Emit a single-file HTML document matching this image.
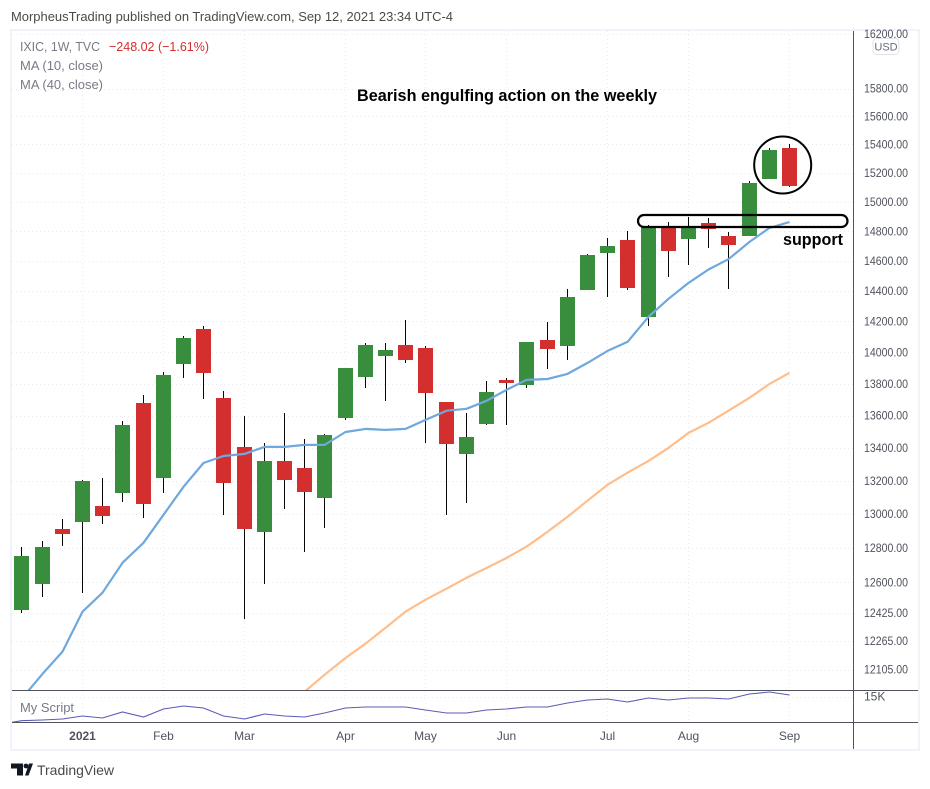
<!DOCTYPE html>
<html lang="en">
<head>
<meta charset="utf-8">
<title>IXIC weekly chart</title>
<style>
html,body{margin:0;padding:0;background:#fff;width:930px;height:789px;overflow:hidden}
svg{display:block;font-family:"Liberation Sans","DejaVu Sans",sans-serif}
</style>
</head>
<body>
<svg id="chart" xmlns="http://www.w3.org/2000/svg" width="930" height="789" viewBox="0 0 930 789">
  <defs>
    <clipPath id="plotClip"><rect x="12" y="31" width="841" height="659"/></clipPath>
    <clipPath id="paneClip"><rect x="12" y="691" width="841" height="31"/></clipPath>
  </defs>
  <rect x="0" y="0" width="930" height="789" fill="#ffffff"/>
  <text x="11" y="21" font-size="13" fill="#4a4a4a" textLength="442" lengthAdjust="spacingAndGlyphs">MorpheusTrading published on TradingView.com, Sep 12, 2021 23:34 UTC-4</text>
  <rect x="11" y="30" width="908" height="720" fill="none" stroke="#f0f3fa" stroke-width="2"/>
  <g id="gridLayer"></g>
  <g id="candleLayer" clip-path="url(#plotClip)"></g>
  <g id="maLayer" clip-path="url(#plotClip)"></g>
  <g id="paneLayer" clip-path="url(#paneClip)"></g>

  <line x1="853.5" y1="31" x2="853.5" y2="749" stroke="#50535e" stroke-width="1"/>
  <line x1="12" y1="690.5" x2="918" y2="690.5" stroke="#50535e" stroke-width="1"/>
  <line x1="12" y1="722.5" x2="918" y2="722.5" stroke="#50535e" stroke-width="1"/>

  <g id="axisLayer"></g>

  <rect x="873" y="38.5" width="26" height="16" rx="4" fill="#ffffff" stroke="#e0e3eb"/>
  <text x="886" y="50.5" font-size="11" fill="#6a6d78" text-anchor="middle">USD</text>

  <g font-size="13" fill="#787b86">
    <text x="20" y="51" textLength="80" lengthAdjust="spacingAndGlyphs">IXIC, 1W, TVC</text>
    <text x="109" y="51" fill="#d32f2f" textLength="100" lengthAdjust="spacingAndGlyphs">−248.02 (−1.61%)</text>
    <text x="20" y="70" textLength="83" lengthAdjust="spacingAndGlyphs">MA (10, close)</text>
    <text x="20" y="89" textLength="83" lengthAdjust="spacingAndGlyphs">MA (40, close)</text>
  </g>
  <text x="20" y="712" font-size="13" fill="#787b86" textLength="54" lengthAdjust="spacingAndGlyphs">My Script</text>

  <text x="357" y="101" font-size="17" font-weight="bold" fill="#000000" textLength="300" lengthAdjust="spacingAndGlyphs">Bearish engulfing action on the weekly</text>
  <text x="783" y="245" font-size="17" font-weight="bold" fill="#000000" textLength="60" lengthAdjust="spacingAndGlyphs">support</text>
  <ellipse cx="782.7" cy="165" rx="28.5" ry="28.5" fill="none" stroke="#000000" stroke-width="2"/>
  <rect x="638" y="215" width="209.5" height="12" rx="6" ry="6" fill="none" stroke="#000000" stroke-width="2.2"/>

  <g>
    <path d="M11 763.5H23V775.5H17V768.5H11ZM25 775.5L29 763.5H33L28.5 775.5Z" fill="#131722"/>
    <circle cx="26" cy="766" r="2.4" fill="#131722"/>
    <text x="37" y="775" font-size="14" fill="#4a4a4a" textLength="77" lengthAdjust="spacingAndGlyphs">TradingView</text>
  </g>
</svg>
<script>
const opens  = [12442,12590,12912,12953,13049,13127,13680,13217,13926,14151,13711,13406,12894,13320,13279,13097,13585,13843,13978,14048,14029,13686,13363,13548,13824,13793,14080,14042,14406,14652,14740,14230,14822,14747,14855,14767,14767,15159,15375];
const highs  = [12806,12841,12971,13205,13217,13567,13730,13875,14106,14171,13755,13598,13431,13616,13455,13486,13900,14061,14061,14210,14042,13686,13616,13818,13837,14067,14197,14413,14647,14754,14801,14842,14862,14896,14889,14795,15145,15375,15403];
const lows   = [12425,12516,12812,12539,12942,13073,12977,13127,13837,13705,12995,12390,12590,13031,12777,12918,13573,13774,13692,13932,13431,12995,13067,13542,13542,13774,13894,13954,14406,14360,14406,14171,14492,14574,14686,14413,14767,15159,15103];
const closes = [12753,12806,12882,13199,12989,13542,13061,13856,14093,13869,13187,12912,13320,13205,13133,13480,13900,14048,14016,13954,13742,13425,13468,13748,13805,14067,14022,14360,14640,14700,14420,14828,14666,14822,14815,14706,15131,15361,15110];
const ma10   = [11943,12081,12205,12430,12539,12712,12829,12995,13163,13307,13350,13363,13406,13406,13418,13418,13498,13517,13511,13517,13573,13630,13642,13692,13761,13824,13830,13862,13932,14009,14067,14230,14348,14453,14542,14611,14727,14822,14862];
const ma40   = [null,null,null,null,null,null,null,null,null,null,null,null,null,null,11982,12076,12169,12249,12339,12430,12499,12562,12625,12682,12740,12806,12894,12983,13079,13175,13248,13320,13400,13492,13555,13630,13711,13799,13869];
const scriptLeadIn = 12.3;
const scriptValues = [12.63,12.7,12.8,13.1,12.9,13.5,13.0,13.8,14.1,13.9,13.1,12.8,13.3,13.1,13.0,13.4,13.9,14.0,14.0,14.0,13.7,13.4,13.4,13.7,13.8,14.0,14.0,14.4,14.7,14.8,14.5,14.9,14.7,14.9,14.9,14.8,15.3,15.5,15.2];
const priceTicks = [16200,15800,15600,15400,15200,15000,14800,14600,14400,14200,14000,13800,13600,13400,13200,13000,12800,12600,12425,12265,12105];
const priceTickLabels = ["16200.00","15800.00","15600.00","15400.00","15200.00","15000.00","14800.00","14600.00","14400.00","14200.00","14000.00","13800.00","13600.00","13400.00","13200.00","13000.00","12800.00","12600.00","12425.00","12265.00","12105.00"];
const timeTickWeeks = [3,7,11,16,20,24,29,33,38];
const timeTickLabels = ["2021","Feb","Mar","Apr","May","Jun","Jul","Aug","Sep"];
const paneTicks = [15];
const paneTickLabels = ["15K"];

const NS = "http://www.w3.org/2000/svg";
const GREEN = "#388e3c", RED = "#d32f2f";

function xAt(i){ return Math.floor(21.95 + i * 20.2); }
function yPrice(p){ return 34 + 2181 * Math.log(16200 / p); }
function yPane(v){ return 697 - (v - 15) * 10; }
function mk(tag){ return document.createElementNS(NS, tag); }
function linePath(vals, yFn){
  let d = "", pen = false;
  vals.forEach(function(v, i){
    if (v === null) return;
    d += (pen ? "L" : "M") + (xAt(i) + 0.5) + " " + yFn(v).toFixed(1);
    pen = true;
  });
  return d;
}

const gridLayer = document.getElementById("gridLayer");
const candleLayer = document.getElementById("candleLayer");
const maLayer = document.getElementById("maLayer");
const paneLayer = document.getElementById("paneLayer");
const axisLayer = document.getElementById("axisLayer");

priceTicks.forEach(function(t, i){
  const y = Math.round(yPrice(t)) + 0.5;
  const g = mk("line");
  
  
  g.setAttribute("x1", 12); g.setAttribute("x2", 853);
  g.setAttribute("y1", y); g.setAttribute("y2", y);
  g.setAttribute("stroke", "#e9ebf1");
  g.setAttribute("stroke-dasharray", "1 3");
  gridLayer.appendChild(g);
  const label = mk("text");
  
  
  label.setAttribute("x", 864);
  label.setAttribute("y", yPrice(t) + 4.2);
  label.setAttribute("font-size", "12");
  label.setAttribute("fill", "#50535e");
  label.setAttribute("textLength", "44");
  label.setAttribute("lengthAdjust", "spacingAndGlyphs");
  label.textContent = priceTickLabels[i];
  axisLayer.appendChild(label);
});

timeTickWeeks.forEach(function(w, i){
  const x = xAt(w) + 0.5;
  const g = mk("line");
  
  
  g.setAttribute("x1", x); g.setAttribute("x2", x);
  g.setAttribute("y1", 31); g.setAttribute("y2", 722);
  g.setAttribute("stroke", "#e9ebf1");
  g.setAttribute("stroke-dasharray", "1 3");
  gridLayer.appendChild(g);
  const label = mk("text");
  
  
  label.setAttribute("x", x);
  label.setAttribute("y", 740);
  label.setAttribute("font-size", "12");
  label.setAttribute("fill", "#50535e");
  label.setAttribute("text-anchor", "middle");
  if (i === 0) label.setAttribute("font-weight", "bold");
  label.textContent = timeTickLabels[i];
  axisLayer.appendChild(label);
});

paneTicks.forEach(function(t, i){
  const y = Math.round(yPane(t)) + 0.5;
  const g = mk("line");
  
  
  g.setAttribute("x1", 12); g.setAttribute("x2", 853);
  g.setAttribute("y1", y); g.setAttribute("y2", y);
  g.setAttribute("stroke", "#e9ebf1");
  g.setAttribute("stroke-dasharray", "1 3");
  gridLayer.appendChild(g);
  const label = mk("text");
  
  
  label.setAttribute("x", 864);
  label.setAttribute("y", yPane(t) + 3.5);
  label.setAttribute("font-size", "12");
  label.setAttribute("fill", "#50535e");
  label.textContent = paneTickLabels[i];
  axisLayer.appendChild(label);
});

opens.forEach(function(o, i){
  const c = closes[i];
  const x = xAt(i);
  const color = c >= o ? GREEN : RED;
  const wickTop = Math.round(yPrice(highs[i]));
  const wickBottom = Math.round(yPrice(lows[i]));
  const bodyTop = Math.round(yPrice(Math.max(o, c)));
  const bodyBottom = Math.round(yPrice(Math.min(o, c)));
  const wick = mk("rect");
  
  
  wick.setAttribute("x", x);
  wick.setAttribute("y", wickTop);
  wick.setAttribute("width", 1);
  wick.setAttribute("height", Math.max(wickBottom - wickTop, 0));
  wick.setAttribute("fill", "#0a0505");
  candleLayer.appendChild(wick);
  const body = mk("rect");
  
  
  body.setAttribute("x", x - 7);
  body.setAttribute("y", bodyTop);
  body.setAttribute("width", 15);
  body.setAttribute("height", Math.max(bodyBottom - bodyTop, 1));
  body.setAttribute("fill", color);
  candleLayer.appendChild(body);
});

const ma10Line = mk("path");


ma10Line.setAttribute("d", linePath(ma10, yPrice));
ma10Line.setAttribute("fill", "none");
ma10Line.setAttribute("stroke", "#6fa8dc");
ma10Line.setAttribute("stroke-width", "2.2");
ma10Line.setAttribute("stroke-linejoin", "round");
maLayer.appendChild(ma10Line);

const ma40Line = mk("path");


ma40Line.setAttribute("d", linePath(ma40, yPrice));
ma40Line.setAttribute("fill", "none");
ma40Line.setAttribute("stroke", "#ffbd8a");
ma40Line.setAttribute("stroke-width", "2.2");
ma40Line.setAttribute("stroke-linejoin", "round");
maLayer.appendChild(ma40Line);

const scriptLine = mk("path");


scriptLine.setAttribute("d", "M" + (xAt(-1) + 0.5) + " " + yPane(scriptLeadIn).toFixed(1) + linePath(scriptValues, yPane).replace("M", "L"));
scriptLine.setAttribute("fill", "none");
scriptLine.setAttribute("stroke", "#5b5bb5");
scriptLine.setAttribute("stroke-width", "1.1");
paneLayer.appendChild(scriptLine);
</script>
</body>
</html>
